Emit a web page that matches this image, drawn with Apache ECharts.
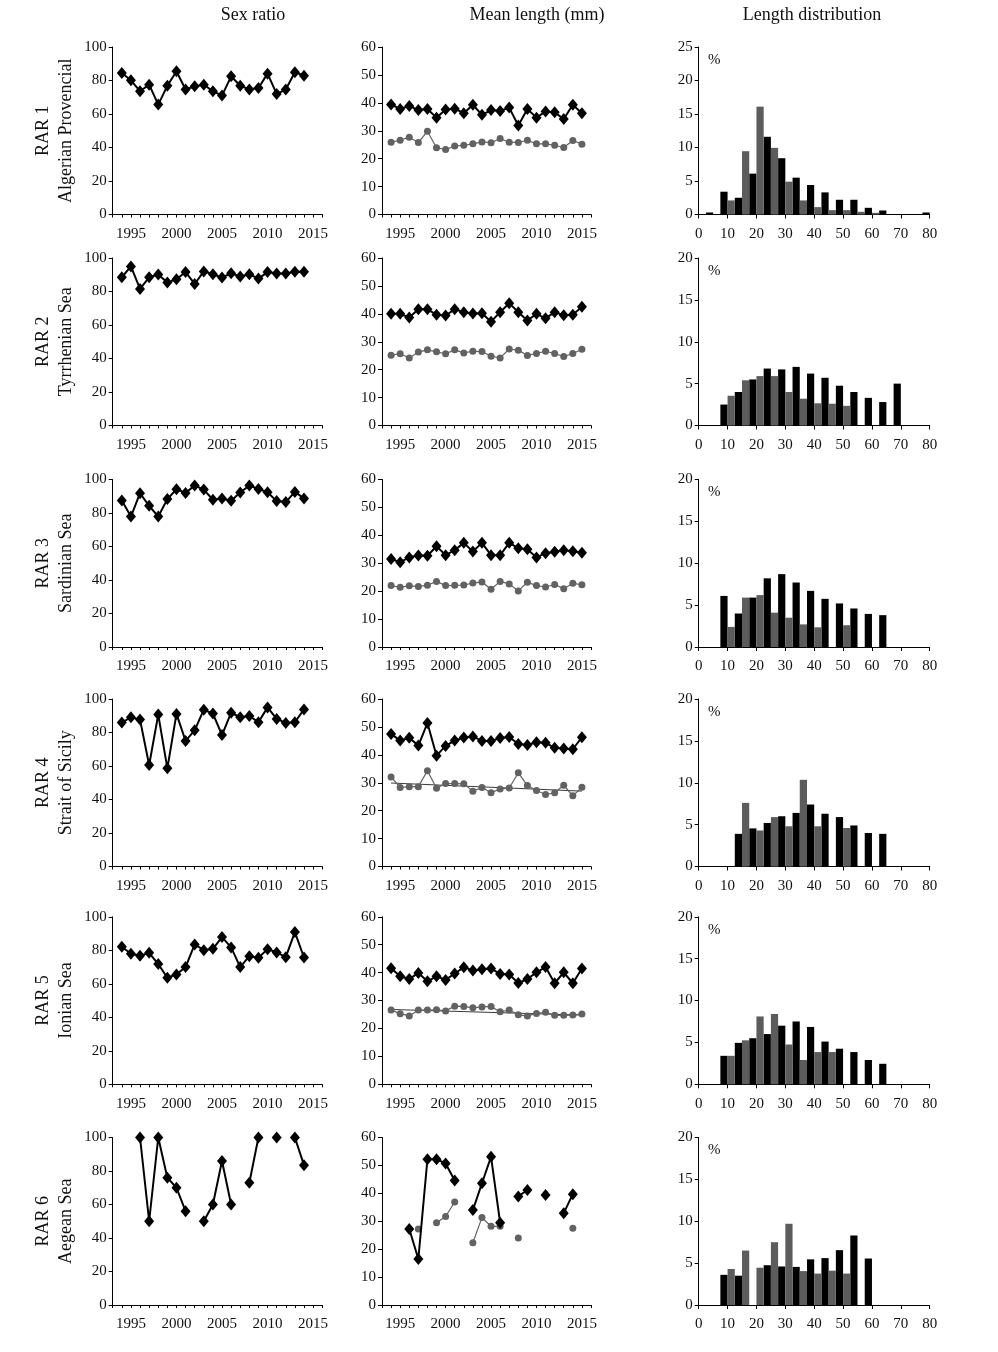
<!DOCTYPE html>
<html><head><meta charset="utf-8">
<script src="https://cdn.jsdelivr.net/npm/echarts@6/dist/echarts.min.js"></script>
<style>html,body{margin:0;padding:0;background:#fff}#c{width:998px;height:1352px}</style>
</head><body><div id="c"></div>
<script>
const colTitles = ['Sex ratio', 'Mean length (mm)', 'Length distribution'];
const rowCodes = ['RAR 1', 'RAR 2', 'RAR 3', 'RAR 4', 'RAR 5', 'RAR 6'];
const rowNames = ['Algerian Provencial', 'Tyrrhenian Sea', 'Sardinian Sea', 'Strait of Sicily', 'Ionian Sea', 'Aegean Sea'];

const sexYears = [1994,1995,1996,1997,1998,1999,2000,2001,2002,2003,2004,2005,2006,2007,2008,2009,2010,2011,2012,2013,2014];
const lenYears = [1994,1995,1996,1997,1998,1999,2000,2001,2002,2003,2004,2005,2006,2007,2008,2009,2010,2011,2012,2013,2014,2015];

const sexRatio1 = [84.5,80.1,73.6,77.5,65.6,76.9,85.5,74.6,76.5,77.5,73.6,71.0,82.5,76.9,74.6,75.5,84.1,72.0,74.6,84.9,82.9];
const sexRatio2 = [88.5,95.0,81.5,88.5,90.1,85.3,87.3,91.6,84.5,92.0,90.3,88.3,90.9,88.9,90.3,87.7,91.6,90.7,90.7,91.8,91.8];
const sexRatio3 = [87.5,77.9,91.8,84.3,77.9,88.3,94.2,92.0,96.4,94.0,87.9,88.7,87.3,92.2,96.4,94.4,92.4,87.1,86.5,92.6,88.7];
const sexRatio4 = [85.9,89.1,87.7,60.6,90.7,58.6,91.1,75.0,81.3,93.6,91.3,78.5,91.8,89.1,89.9,86.1,95.0,88.1,85.7,86.1,93.8];
const sexRatio5 = [82.1,77.9,76.7,78.5,71.8,63.6,65.6,70.0,83.5,80.1,80.9,87.9,81.7,70.0,76.5,75.5,80.7,78.7,75.9,90.9,75.7];
const sexRatio6 = [null,null,100,50,100,76,70,56,null,50,60,86,60,null,73,100,null,100,null,100,83.5];

const meanBlack1 = [39.4,37.8,38.9,37.4,37.8,34.7,37.6,37.9,36.3,39.3,35.7,37.4,37.1,38.3,31.9,37.8,34.7,36.9,36.6,34.2,39.3,36.3];
const meanGray1  = [25.9,26.6,27.7,25.8,29.8,23.9,23.3,24.5,24.8,25.3,26.0,25.7,27.2,25.9,25.8,26.6,25.3,25.3,24.8,24.0,26.5,25.2];
const meanBlack2 = [40.0,40.0,38.7,41.6,41.6,39.7,39.4,41.6,40.6,40.1,40.2,37.2,40.6,43.8,40.6,37.6,40.0,38.4,40.6,39.5,39.7,42.5];
const meanGray2  = [25.2,25.7,24.2,26.3,27.1,26.4,25.7,27.1,26.0,26.6,26.5,24.8,24.2,27.4,27.0,25.1,25.8,26.6,25.8,24.7,25.8,27.3];
const meanBlack3 = [31.5,30.4,32.1,32.8,32.7,36.1,32.9,34.7,37.3,34.2,37.3,32.9,32.9,37.3,35.4,35.0,32.1,33.6,34.1,34.7,34.3,33.8];
const meanGray3  = [22.0,21.4,21.9,21.7,22.1,23.5,22.0,22.1,22.2,22.9,23.3,20.7,23.5,22.6,20.1,23.2,22.0,21.5,22.4,20.9,22.8,22.3];
const meanBlack4 = [47.5,45.1,46.1,43.3,51.4,39.7,43.2,45.1,46.2,46.6,45.0,45.0,46.0,46.4,43.9,43.5,44.5,44.3,42.5,42.3,42.0,46.3];
const meanGray4  = [32.1,28.3,28.6,28.6,34.3,28.0,29.7,29.7,29.6,27.0,28.3,26.4,27.8,28.1,33.6,29.0,27.2,25.8,26.4,29.1,25.3,28.4];
const meanBlack5 = [41.6,38.7,37.7,39.9,36.9,38.7,37.4,39.7,41.9,40.8,41.2,41.5,39.5,39.3,36.3,37.7,40.1,42.0,36.2,40.1,36.2,41.5];
const meanGray5  = [26.6,25.3,24.5,26.6,26.6,26.7,26.3,28.0,27.9,27.4,27.7,27.9,26.0,26.6,24.9,24.5,25.4,25.8,24.7,24.7,24.8,25.2];
const meanBlack6 = [null,null,27.2,16.5,52.2,52.2,50.7,44.6,null,34.0,43.6,53.1,29.5,null,38.9,41.2,null,39.4,null,32.9,39.7,null];
const meanGray6  = [null,null,null,27.2,null,29.5,31.7,36.9,null,22.3,31.3,28.2,28.2,null,24.0,null,null,null,null,null,27.5,null];

const trend4 = [[1994, 29.9], [2015, 27.0]];
const trend5 = [[1994, 26.8], [2015, 24.8]];

const lenBins = [5,10,15,20,25,30,35,40,45,50,55,60,65,70,75,80];
const lenBlack1 = [0.3,3.4,2.5,6.1,11.6,8.4,5.5,4.4,3.3,2.2,2.2,1.0,0.6,0,0,0.3];
const lenGray1  = [0,2.1,9.45,16.1,9.95,4.9,2.1,1.1,0.65,0.65,0.4,0.25,0,0,0,0];
const lenBlack2 = [0,2.5,4.0,5.5,6.8,6.7,7.0,6.2,5.7,4.75,4.0,3.3,2.8,5.0,0,0];
const lenGray2  = [0,3.55,5.4,5.9,5.9,4.0,3.2,2.65,2.6,2.35,0,0,0,0,0,0];
const lenBlack3 = [0,6.1,4.0,5.9,8.2,8.7,7.7,6.7,5.75,5.2,4.6,3.95,3.8,0,0,0];
const lenGray3  = [0,2.4,5.9,6.2,4.1,3.5,2.7,2.35,0,2.6,0,0,0,0,0,0];
const lenBlack4 = [0,0,3.9,4.55,5.2,6.0,6.4,7.4,6.3,5.9,4.9,4.0,3.9,0,0,0];
const lenGray4  = [0,0,7.6,4.3,5.9,4.8,10.35,4.8,0,4.6,0,0,0,0,0,0];
const lenBlack5 = [0,3.4,4.95,5.5,6.0,7.0,7.5,6.85,5.1,4.25,3.85,2.9,2.45,0,0,0];
const lenGray5  = [0,3.4,5.25,8.1,8.4,4.75,2.9,3.85,3.85,0,0,0,0,0,0,0];
const lenBlack6 = [0,3.6,3.5,0,4.75,4.6,4.55,5.45,5.6,6.55,8.3,5.55,0,0,0,0];
const lenGray6  = [0,4.3,6.5,4.45,7.5,9.7,4.05,3.75,4.1,3.75,0,0,0,0,0,0];

const lenMax = [25,20,20,20,20,20];

const sexRatios = [sexRatio1,sexRatio2,sexRatio3,sexRatio4,sexRatio5,sexRatio6];
const meanBlacks = [meanBlack1,meanBlack2,meanBlack3,meanBlack4,meanBlack5,meanBlack6];
const meanGrays = [meanGray1,meanGray2,meanGray3,meanGray4,meanGray5,meanGray6];
const trends = [null,null,null,trend4,trend5,null];
const lenBlacks = [lenBlack1,lenBlack2,lenBlack3,lenBlack4,lenBlack5,lenBlack6];
const lenGrays = [lenGray1,lenGray2,lenGray3,lenGray4,lenGray5,lenGray6];

// layout
const FONT = "'Liberation Serif','DejaVu Serif','Times New Roman',serif";
const rowTops = [47, 258, 479.5, 699, 916.8, 1137.5];
const plotH = 167.5;
const colLeft = [112.7, 382, 698.7];
const colW = [209.5, 209, 231];
const titleX = [253, 537, 812];
const GRAY = '#626262';

const grids = [], xAxes = [], yAxes = [], series = [], graphics = [];
const pair = (xs, ys) => xs.map((x, i) => [x, ys[i]]);

function axisCommon() {
  return {
    axisLine: {show: true, lineStyle: {color: '#000', width: 1}},
    axisTick: {show: true, inside: false, length: 4, lineStyle: {color: '#000'}},
    splitLine: {show: false},
    axisLabel: {color: '#111', fontFamily: FONT, fontSize: 15}
  };
}

colTitles.forEach((t, c) => graphics.push({
  type: 'text', x: titleX[c], y: 15,
  style: {text: t, font: '18px ' + FONT, fill: '#111', textAlign: 'center', textVerticalAlign: 'middle'}
}));

for (let r = 0; r < 6; r++) {
  const cy = rowTops[r] + plotH / 2;
  graphics.push({
    type: 'text', x: 55, y: cy, rotation: Math.PI / 2,
    style: {text: rowCodes[r] + '\n' + rowNames[r], font: '18px ' + FONT, fill: '#111',
      textAlign: 'center', textVerticalAlign: 'middle', lineHeight: 23}
  });
  graphics.push({
    type: 'text', x: 708, y: rowTops[r] + 13,
    style: {text: '%', font: '15px ' + FONT, fill: '#111', textAlign: 'left', textVerticalAlign: 'middle'}
  });
  for (let c = 0; c < 3; c++) {
    const gi = grids.length;
    grids.push({left: colLeft[c], top: rowTops[r], width: colW[c], height: plotH, containLabel: false});
    const xa = Object.assign(axisCommon(), {type: 'value', gridIndex: gi});
    const ya = Object.assign(axisCommon(), {type: 'value', gridIndex: gi, min: 0});
    ya.axisLabel.margin = 6;
    xa.axisLabel.margin = 12;
    if (c < 2) {
      xa.min = 1993; xa.max = 2016; xa.interval = 1;
      xa.axisTick.length = 3;
      xa.axisLabel.formatter = v => (v % 5 === 0 ? String(v) : '');
    } else {
      xa.min = 0; xa.max = 80; xa.interval = 10;
    }
    if (c === 0) { ya.max = 100; ya.interval = 20; }
    else if (c === 1) { ya.max = 60; ya.interval = 10; }
    else { ya.max = lenMax[r]; ya.interval = 5; }
    xAxes.push(xa); yAxes.push(ya);

    if (c === 0) {
      series.push({type: 'line', xAxisIndex: gi, yAxisIndex: gi, data: pair(sexYears, sexRatios[r]),
        symbol: 'diamond', symbolSize: [10, 12], showSymbol: true, connectNulls: false,
        lineStyle: {color: '#000', width: 2}, itemStyle: {color: '#000'}, animation: false, z: 3});
    } else if (c === 1) {
      if (trends[r]) {
        series.push({type: 'line', xAxisIndex: gi, yAxisIndex: gi, data: trends[r], symbol: 'none',
          lineStyle: {color: '#3a3a3a', width: 1}, animation: false, z: 2});
      }
      series.push({type: 'line', xAxisIndex: gi, yAxisIndex: gi, data: pair(lenYears, meanGrays[r]),
        symbol: 'circle', symbolSize: 7, showSymbol: true, connectNulls: false,
        lineStyle: {color: GRAY, width: 1.2}, itemStyle: {color: GRAY}, animation: false, z: 3});
      series.push({type: 'line', xAxisIndex: gi, yAxisIndex: gi, data: pair(lenYears, meanBlacks[r]),
        symbol: 'diamond', symbolSize: [10, 12], showSymbol: true, connectNulls: false,
        lineStyle: {color: '#000', width: 2}, itemStyle: {color: '#000'}, animation: false, z: 4});
    } else {
      const bw = colW[c] / 80 * 2.5;
      series.push({type: 'bar', xAxisIndex: gi, yAxisIndex: gi, data: pair(lenBins, lenBlacks[r]),
        barWidth: bw, barGap: '0%', itemStyle: {color: '#000'}, animation: false});
      series.push({type: 'bar', xAxisIndex: gi, yAxisIndex: gi, data: pair(lenBins, lenGrays[r]),
        barWidth: bw, barGap: '0%', itemStyle: {color: '#5c5c5c'}, animation: false});
    }
  }
}

const chart = echarts.init(document.getElementById('c'), null, {renderer: 'canvas'});
chart.setOption({
  backgroundColor: '#fff',
  animation: false,
  grid: grids, xAxis: xAxes, yAxis: yAxes, series: series, graphic: graphics
});
</script></body></html>
